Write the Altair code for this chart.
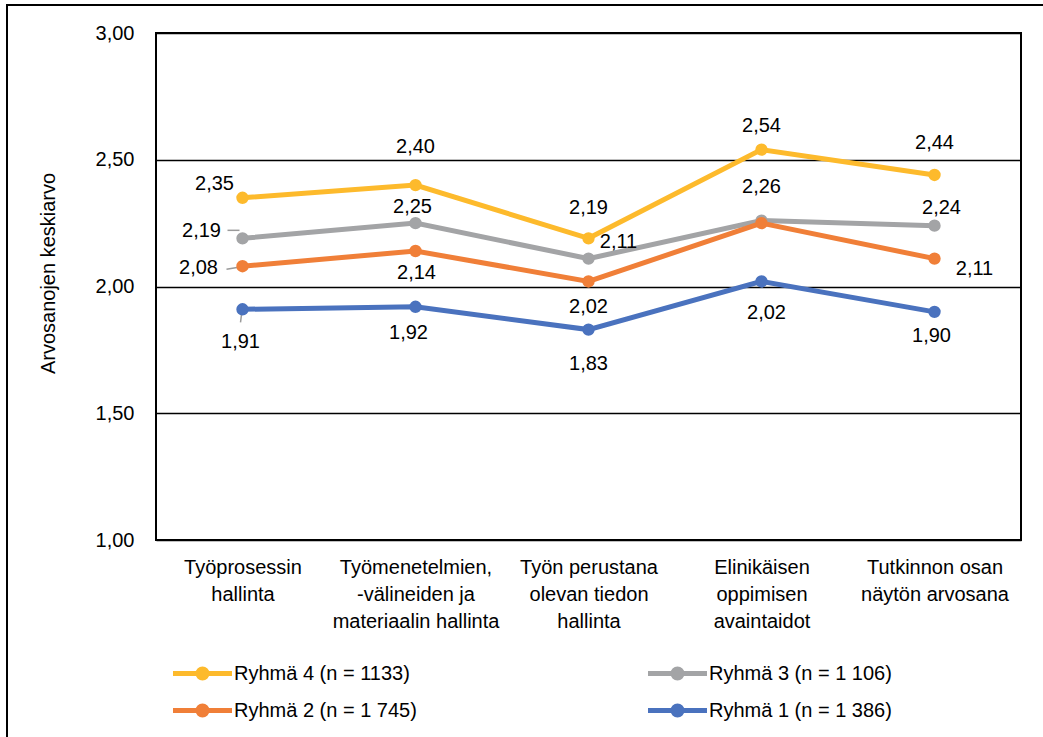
import altair as alt
import pandas as pd

# Osa-alueet (x-akseli) ja ryhmät
categories = [
    "Työprosessin\nhallinta",
    "Työmenetelmien,\n-välineiden ja\nmateriaalin hallinta",
    "Työn perustana\nolevan tiedon\nhallinta",
    "Elinikäisen\noppimisen\navaintaidot",
    "Tutkinnon osan\nnäytön arvosana",
]
groups = [
    "Ryhmä 4 (n = 1133)",
    "Ryhmä 3 (n = 1 106)",
    "Ryhmä 2 (n = 1 745)",
    "Ryhmä 1 (n = 1 386)",
]

# Arvosanojen keskiarvot ryhmittäin
ryhma4 = [2.35, 2.40, 2.19, 2.54, 2.44]
ryhma3 = [2.19, 2.25, 2.11, 2.26, 2.24]
ryhma2 = [2.08, 2.14, 2.02, 2.25, 2.11]
ryhma1 = [1.91, 1.92, 1.83, 2.02, 1.90]
series = [ryhma4, ryhma3, ryhma2, ryhma1]

colors = ["#FDBA2C", "#A3A4A6", "#F07F38", "#4A72BE"]

# Arvotunnisteiden siirtymät pisteestä (px); None = ei tunnistetta
label_shift = [
    [(-28, -14), (0, -38), (0, -30), (0, -24), (0, -32)],
    [(-41, -7), (-3, -16), (30, -17), (0, -34), (7, -18)],
    [(-44, 2), (1, 22), (0, 26), None, (40, 10)],
    [(-2, 33), (-7, 26), (0, 34), (5, 32), (-3, 24)],
]

# Ohjausviivat tunnisteesta pisteeseen: (ryhmä, osa-alue, x1, y1, x2, y2) px pisteestä
leaders = [
    (1, 0, -15, -8, -3, -8),
    (2, 0, -16, 3, -4, 1),
    (3, 0, -2, 13, -1, 5),
]

PLOT_W, PLOT_H = 865, 507
Y_MIN, Y_MAX = 1, 3
PX_PER_UNIT = PLOT_H / (Y_MAX - Y_MIN)

rows = []
for g, vals, shifts in zip(groups, series, label_shift):
    for c, v, s in zip(categories, vals, shifts):
        rows.append({
            "ryhma": g,
            "kategoria": c,
            "arvo": v,
            "dx": s[0] if s else 0,
            "dy": s[1] if s else 0,
            "nayta": s is not None,
        })
df = pd.DataFrame(rows)

FONT = "Liberation Sans"

legend_symbol = (
    "M-2.95,0L2.95,0"
    "M-0.25,0A0.25,0.25,0,1,1,0.25,0A0.25,0.25,0,1,1,-0.25,0"
    "M-0.45,0A0.45,0.45,0,1,1,0.45,0A0.45,0.45,0,1,1,-0.45,0"
)

x_enc = alt.X(
    "kategoria:N",
    sort=categories,
    scale=alt.Scale(type="point", padding=0.5),
    axis=alt.Axis(
        title=None,
        labelExpr="split(datum.label, '\\n')",
        labelAngle=0,
        labelAlign="center",
        labelFontSize=20,
        labelLineHeight=27,
        labelPadding=17,
        labelBaseline="top",
        labelColor="black",
        labelLimit=0,
        ticks=False,
        domain=False,
        grid=False,
    ),
)
y_scale = alt.Scale(domain=[Y_MIN, Y_MAX], nice=False, zero=False)
y_enc = alt.Y(
    "arvo:Q",
    scale=y_scale,
    axis=alt.Axis(
        values=[1, 1.5, 2, 2.5, 3],
        labelExpr="replace(format(datum.value, '.2f'), '.', ',')",
        title="Arvosanojen keskiarvo",
        titleFontSize=20,
        titleFontWeight="normal",
        titleColor="black",
        titleAngle=270,
        titleX=-108,
        titleY=240,
        titleAlign="center",
        titleBaseline="middle",
        labelFontSize=20,
        labelColor="black",
        labelPadding=22,
        grid=True,
        gridColor="black",
        gridWidth=1.5,
        ticks=False,
        domain=False,
    ),
)
color_scale = alt.Scale(domain=groups, range=colors)

base = alt.Chart(df).encode(x=x_enc, y=y_enc)

lines = base.mark_line(strokeWidth=5).encode(
    color=alt.Color(
        "ryhma:N",
        scale=color_scale,
        sort=groups,
        legend=alt.Legend(
            title=None,
            orient="none",
            legendX=34,
            legendY=628,
            columns=2,
            # legend fills column by column: list entries so rows read 4, 3 / 2, 1
            values=[groups[0], groups[2], groups[1], groups[3]],
            symbolType=legend_symbol,
            symbolSize=400,
            symbolStrokeWidth=5,
            labelFont=FONT,
            labelFontSize=20,
            labelColor="black",
            labelOffset=19,
            labelLimit=0,
            columnPadding=221,
            rowPadding=8,
            padding=0,
        ),
    ),
)

points = base.mark_point(filled=True, size=154, opacity=1).encode(
    color=alt.Color("ryhma:N", scale=color_scale, sort=groups, legend=None),
)

labels = (
    alt.Chart(df)
    .transform_filter("datum.nayta")
    .transform_calculate(
        teksti="replace(format(datum.arvo, '.2f'), '.', ',')",
        arvo_tunniste=f"datum.arvo - datum.dy / {PX_PER_UNIT}",
    )
    .mark_text(fontSize=20, font=FONT, color="black", align="center", baseline="middle")
    .encode(
        x=alt.X("kategoria:N", sort=categories),
        y=alt.Y("arvo_tunniste:Q", scale=y_scale),
        text="teksti:N",
        xOffset=alt.XOffset("dx:Q", scale=None),
    )
)

leader_layers = []
for gi, ci, x1, y1, x2, y2 in leaders:
    leader_layers.append(
        alt.Chart(df)
        .transform_filter(
            alt.FieldEqualPredicate(field="ryhma", equal=groups[gi])
        )
        .transform_filter(
            alt.FieldEqualPredicate(field="kategoria", equal=categories[ci])
        )
        .mark_rule(
            color="#9A9A9A", strokeWidth=1.5,
            xOffset=x1, yOffset=y1, x2Offset=x2, y2Offset=y2,
        )
        .encode(
            x=alt.X("kategoria:N", sort=categories),
            x2="kategoria:N",
            y=alt.Y("arvo:Q", scale=y_scale),
            y2="arvo:Q",
        )
    )

# Kaavion ulkokehys
frame = alt.Chart(pd.DataFrame({"k": [0]})).mark_rect(
    fillOpacity=0, stroke="black", strokeWidth=2
).encode(
    x=alt.value(-149), x2=alt.value(900), y=alt.value(-28), y2=alt.value(720)
)

chart = (
    alt.layer(frame, *leader_layers, lines, points, labels)
    .properties(
        width=PLOT_W,
        height=PLOT_H,
        autosize=alt.AutoSizeParams(type="none"),
        padding={"left": 156, "top": 33, "right": 22, "bottom": 197},
        background="white",
    )
    .configure(font=FONT)
    .configure_view(stroke="black", strokeWidth=2)
)

chart.save("out.html", embed_options={"renderer": "svg", "actions": False})
